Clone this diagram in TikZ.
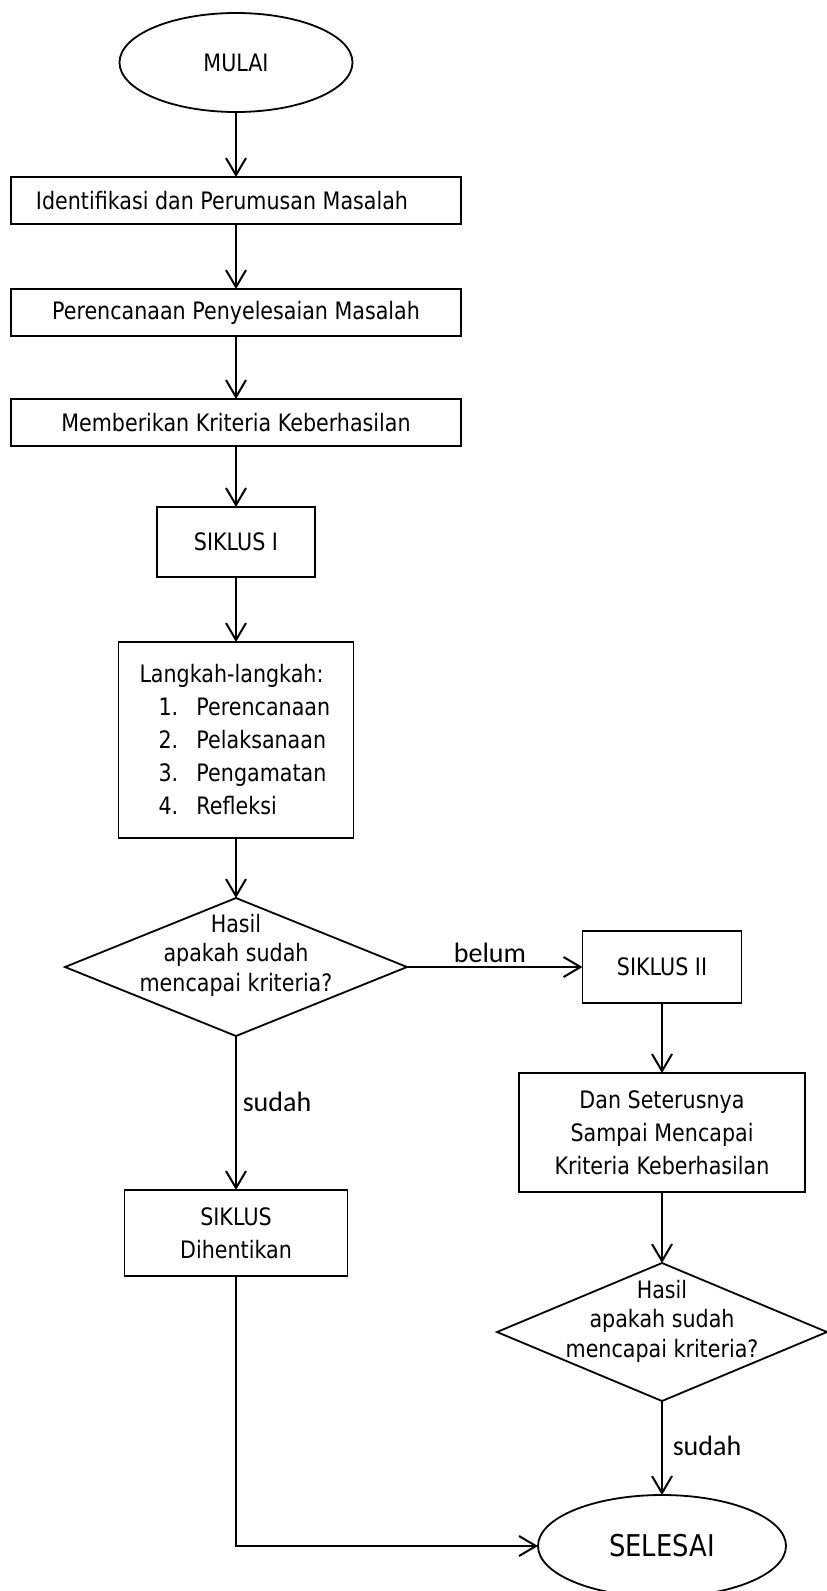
\documentclass[tikz,border=0pt]{standalone}
\usepackage{fontspec}
\newfontfamily\tah[FakeStretch=0.86]{DejaVu Sans}
\newfontfamily\calf{Carlito}
\usetikzlibrary{shapes.geometric,arrows.meta}
\begin{document}
\begin{tikzpicture}[x=1pt,y=-1pt,
  every node/.style={inner sep=0pt, outer sep=0pt},
  base/.style={draw, line width=1.8pt, font=\tah\fontsize{24}{33}\selectfont, align=center},
  term/.style={base, ellipse},
  proc/.style={base, rectangle},
  dec/.style={draw, line width=1.8pt, diamond},
  dectext/.style={font=\tah\fontsize{24}{29.5}\selectfont, align=center},
  lbl/.style={font=\calf\fontsize{28}{30}\selectfont},
  arr/.style={line width=2pt, -{Straight Barb[length=17pt,width=20pt]}},
]
\useasboundingbox (0,0) rectangle (827,1591);
\fill[white] (0,0) rectangle (827,1591);

\node[term, minimum width=233pt, minimum height=99pt] (mulai) at (236,62.5) {MULAI};
\node[proc, minimum width=450pt, minimum height=47pt] (b1) at (236,200.5) {Identifikasi dan Perumusan Masalah\kern28pt};
\node[proc, minimum width=450pt, minimum height=47pt] (b2) at (236,312.5) {Perencanaan Penyelesaian Masalah};
\node[proc, minimum width=450pt, minimum height=47pt] (b3) at (236,422.5) {Memberikan Kriteria Keberhasilan};
\node[proc, minimum width=158pt, minimum height=70pt] (s1) at (236,542) {SIKLUS I};
\node[proc, minimum width=235pt, minimum height=196pt, text width=193pt, align=left] (lk) at (236,740)
  {Langkah-langkah:\\
   \hspace*{19pt}\makebox[38pt][l]{1.}Perencanaan\\
   \hspace*{19pt}\makebox[38pt][l]{2.}Pelaksanaan\\
   \hspace*{19pt}\makebox[38pt][l]{3.}Pengamatan\\
   \hspace*{19pt}\makebox[38pt][l]{4.}Refleksi};
\node[dec, minimum width=342pt, minimum height=138pt] (d1) at (236,967) {};
\node[dectext, yshift=12pt] (d1t) at (d1.center) {Hasil\\apakah sudah\\mencapai kriteria?};
\node[proc, minimum width=159pt, minimum height=72pt] (s2) at (662,967) {SIKLUS II};
\node[proc, minimum width=286pt, minimum height=119pt] (dst) at (662,1132.5) {Dan Seterusnya\\Sampai Mencapai\\Kriteria Keberhasilan};
\node[proc, minimum width=223pt, minimum height=86pt] (stop) at (236,1233) {SIKLUS\\Dihentikan};
\node[dec, minimum width=330pt, minimum height=138pt] (d2) at (662,1332) {};
\node[dectext, yshift=11pt] (d2t) at (d2.center) {Hasil\\apakah sudah\\mencapai kriteria?};
\node[term, minimum width=248pt, minimum height=102pt, font=\tah\fontsize{30}{33}\selectfont] (selesai) at (662,1546) {SELESAI};

\node[lbl] (lbelum) at (490,953) {belum};
\node[lbl] (lsudah1) at (277,1102) {sudah};
\node[lbl] (lsudah2) at (707,1446) {sudah};

\draw[arr] (mulai) -- (b1);
\draw[arr] (b1) -- (b2);
\draw[arr] (b2) -- (b3);
\draw[arr] (b3) -- (s1);
\draw[arr] (s1) -- (lk);
\draw[arr] (lk) -- (d1);
\draw[arr] (d1) -- (s2);
\draw[arr] (d1) -- (stop);
\draw[arr] (s2) -- (dst);
\draw[arr] (dst) -- (d2);
\draw[arr] (d2) -- (selesai);
\draw[arr] (stop.south) |- (selesai.west);
\end{tikzpicture}
\end{document}
